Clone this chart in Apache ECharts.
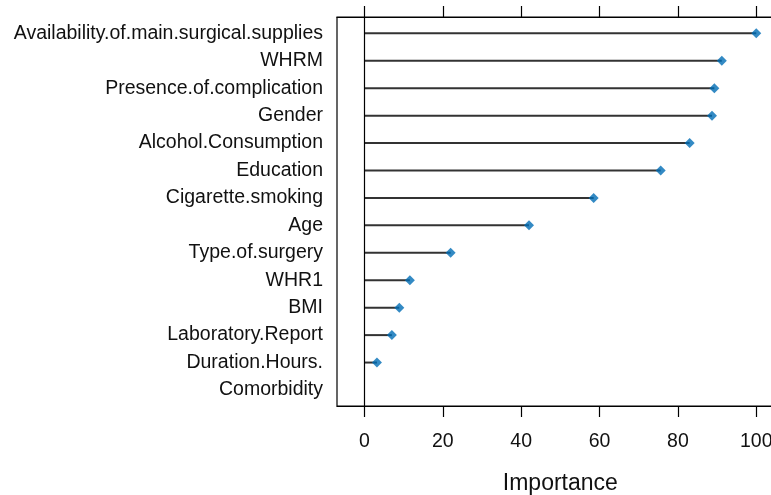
<!DOCTYPE html>
<html>
<head>
<meta charset="utf-8">
<script src="https://cdn.jsdelivr.net/npm/echarts@6/dist/echarts.min.js"></script>
<style>
  html, body { margin: 0; padding: 0; background: #fff; }
  #chart { width: 771px; height: 495px; }
</style>
</head>
<body>
<div id="chart"></div>
<script>
// variables, top to bottom (Comorbidity has no point drawn)
const names = [
  'Availability.of.main.surgical.supplies', 'WHRM', 'Presence.of.complication',
  'Gender', 'Alcohol.Consumption', 'Education', 'Cigarette.smoking', 'Age',
  'Type.of.surgery', 'WHR1', 'BMI', 'Laboratory.Report', 'Duration.Hours.',
  'Comorbidity'
];
const importance = [100, 91.2, 89.3, 88.7, 83.0, 75.6, 58.5, 42.0, 22.0, 11.6, 8.9, 7.0, 3.2, null];
const xTicks = [0, 20, 40, 60, 80, 100];

const font = 'Liberation Sans, Arial, sans-serif';
const chart = echarts.init(document.getElementById('chart'));

chart.setOption({
  animation: false,
  grid: [
    // outer box with the axes
    { left: 337, top: 17, width: 446.7, height: 389, show: true, borderColor: '#000', borderWidth: 1.2, outerBoundsMode: 'none' },
    // rows
    { left: 337, top: 19.6, width: 446.7, height: 384.1, outerBoundsMode: 'none' }
  ],
  xAxis: [
    {
      gridIndex: 0, type: 'value', min: -7, max: 107, position: 'bottom',
      splitLine: { show: false },
      axisLine: { lineStyle: { color: '#000', width: 1.2 } },
      axisTick: { length: 11, customValues: xTicks, lineStyle: { color: '#000', width: 1.2 } },
      axisLabel: { customValues: xTicks, color: '#111', fontSize: 19.5, fontFamily: font, margin: 26 },
      name: 'Importance', nameLocation: 'middle', nameGap: 66,
      nameTextStyle: { color: '#111', fontSize: 23, fontFamily: font }
    },
    {
      gridIndex: 0, type: 'value', min: -7, max: 107, position: 'top',
      splitLine: { show: false },
      axisLine: { lineStyle: { color: '#000', width: 1.2 } },
      axisTick: { length: 11, customValues: xTicks, lineStyle: { color: '#000', width: 1.2 } },
      axisLabel: { show: false }
    },
    { gridIndex: 1, type: 'value', min: -7, max: 107, show: false }
  ],
  yAxis: [
    { gridIndex: 0, type: 'value', min: 0, max: 1, show: false },
    {
      gridIndex: 1, type: 'category', data: names, inverse: true,
      axisLine: { show: false },
      axisTick: { show: false },
      axisLabel: { color: '#111', fontSize: 19.5, fontFamily: font, margin: 14, padding: [4, 0, 0, 0] }
    }
  ],
  series: [
    {
      // reference line at zero
      type: 'line', xAxisIndex: 0, yAxisIndex: 0, data: [], showSymbol: false,
      markLine: {
        silent: true, symbol: 'none', label: { show: false },
        lineStyle: { color: '#000', type: 'solid', width: 1.2 },
        data: [{ xAxis: 0 }]
      }
    },
    {
      type: 'bar', xAxisIndex: 2, yAxisIndex: 1,
      data: importance, barWidth: 2,
      itemStyle: { color: '#333' }
    },
    {
      type: 'scatter', xAxisIndex: 2, yAxisIndex: 1,
      data: importance.map((v, i) => [v, names[i]]).filter(d => d[0] !== null),
      symbol: 'diamond', symbolSize: 10,
      itemStyle: { color: '#006DB5' }
    }
  ]
});
</script>
</body>
</html>
